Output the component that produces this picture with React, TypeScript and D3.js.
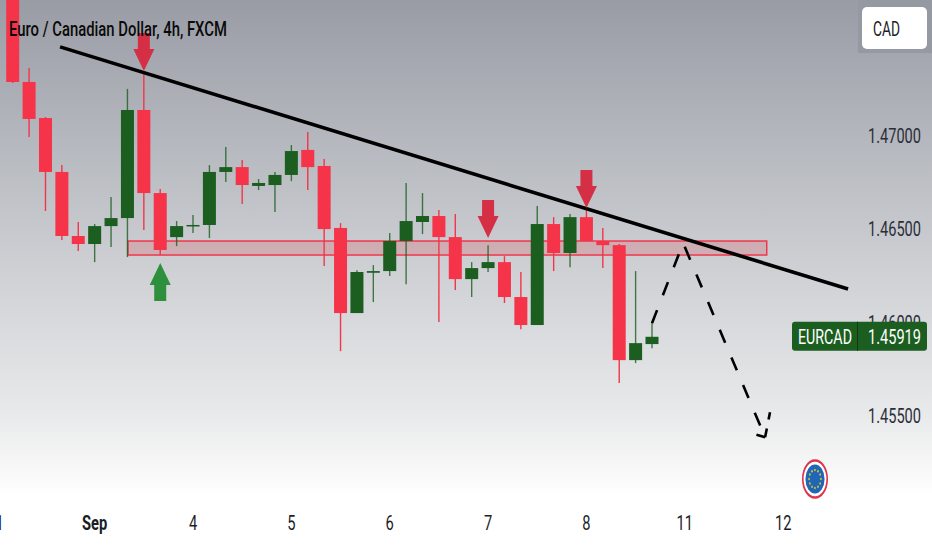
import React, { useEffect, useRef } from "react";
import * as d3 from "d3";

// EURCAD 4h candles
const opens = [1.47777, 1.47284, 1.47091, 1.46802, 1.46459, 1.46416, 1.46512, 1.46555, 1.47134, 1.46689, 1.46453, 1.4651, 1.46518, 1.46802, 1.46828, 1.46727, 1.46732, 1.46786, 1.4692, 1.46834, 1.46502, 1.46046, 1.46262, 1.46271, 1.46432, 1.46534, 1.46566, 1.46453, 1.46228, 1.46287, 1.46319, 1.46132, 1.45982, 1.46523, 1.46368, 1.4656, 1.46432, 1.4641, 1.45794, 1.4588];
const highs = [1.47777, 1.47359, 1.47096, 1.46839, 1.46534, 1.46523, 1.46668, 1.47247, 1.47338, 1.46711, 1.46539, 1.46571, 1.46839, 1.46936, 1.46866, 1.46764, 1.46802, 1.46946, 1.47016, 1.46871, 1.46528, 1.46276, 1.46303, 1.46475, 1.46743, 1.46689, 1.46598, 1.46577, 1.46319, 1.4641, 1.46351, 1.46266, 1.46619, 1.4656, 1.46577, 1.46609, 1.46502, 1.46416, 1.46271, 1.45992];
const lows = [1.47279, 1.46989, 1.46593, 1.46437, 1.46378, 1.46319, 1.464, 1.46346, 1.46491, 1.46357, 1.46405, 1.46475, 1.46448, 1.46748, 1.4663, 1.46705, 1.46587, 1.46753, 1.46705, 1.46298, 1.45842, 1.46046, 1.46105, 1.46244, 1.46201, 1.46469, 1.45998, 1.46169, 1.46132, 1.46266, 1.461, 1.4596, 1.45982, 1.46271, 1.46292, 1.46432, 1.46287, 1.45671, 1.45778, 1.45858];
const closes = [1.47284, 1.47086, 1.46802, 1.46459, 1.46416, 1.46512, 1.46555, 1.47134, 1.46689, 1.46384, 1.46512, 1.46518, 1.46802, 1.46828, 1.46732, 1.46743, 1.46786, 1.46914, 1.46828, 1.46496, 1.46046, 1.46266, 1.46271, 1.46432, 1.46539, 1.46566, 1.46453, 1.46228, 1.46287, 1.46319, 1.46132, 1.45982, 1.46523, 1.46368, 1.4656, 1.46432, 1.4641, 1.45794, 1.45885, 1.45919];

const priceTicks = [1.47, 1.465, 1.46, 1.455];
const dayTicks: [number, string][] = [[-0.8, "1"], [5, "Sep"], [11, "4"], [17, "5"], [23, "6"], [29, "7"], [35, "8"], [41, "11"], [47, "12"]];

// drawings, as [candle index, price]
const trendLine: [number, number][] = [[2.89, 1.47472], [50.96, 1.46175]];
const zoneIndex = [7.03, 46];
const zonePrice = [1.46432, 1.46357];
const pathUp: [number, number][] = [[39, 1.45992], [40.9, 1.46421], [45.9, 1.45381]];
const pathTail1: [number, number][] = [[45.9, 1.45381], [46.2, 1.45515]];
const pathTail2: [number, number][] = [[45.9, 1.45381], [45, 1.45403]];
const downArrows: [number, number][] = [[8, 1.47343], [29, 1.46448], [35, 1.46609]];
const upArrows: [number, number][] = [[9, 1.46314]];

const FONT = "Roboto, 'Liberation Sans', sans-serif";
const RED = "#f5344a";
const GREEN = "#1b5e20";

const App: React.FC = () => {
  const svgRef = useRef<SVGSVGElement>(null);

  useEffect(() => {
    if (!svgRef.current) return;
    const width = 932;
    const height = 550;

    const svg = d3.select(svgRef.current);
    svg.selectAll("*").remove();
    svg.attr("width", width).attr("height", height);

    const x = d3.scaleLinear().domain([0, 39]).range([12.7, 652]);
    const y = d3.scaleLinear().domain([1.47, 1.455]).range([135, 415]);

    // Background fade
    const grad = svg
      .append("defs")
      .append("linearGradient")
      .attr("id", "bg")
      .attr("x1", 0)
      .attr("y1", 0)
      .attr("x2", 0)
      .attr("y2", 1);
    [
      [0, "#999ca5"],
      [0.25, "#b4b7bd"],
      [0.5, "#cfd1d5"],
      [0.75, "#e8e9ea"],
      [0.87, "#fafafa"],
      [0.9, "#ffffff"],
    ].forEach(([o, c]) => grad.append("stop").attr("offset", o as number).attr("stop-color", c as string));
    svg.append("rect").attr("width", width).attr("height", height).attr("fill", "url(#bg)");

    // Zone behind the candles
    svg
      .append("rect")
      .attr("x", x(zoneIndex[0]))
      .attr("y", y(zonePrice[0]))
      .attr("width", x(zoneIndex[1]) - x(zoneIndex[0]))
      .attr("height", y(zonePrice[1]) - y(zonePrice[0]))
      .attr("fill", "#e0414f")
      .attr("fill-opacity", 0.22)
      .attr("stroke", "#f0384c")
      .attr("stroke-width", 1.5);

    // Candles
    const candles = svg.append("g");
    opens.forEach((open, i) => {
      const close = closes[i];
      const color = close >= open ? GREEN : RED;
      const top = y(Math.max(open, close));
      const bottom = y(Math.min(open, close));
      candles
        .append("line")
        .attr("x1", x(i))
        .attr("x2", x(i))
        .attr("y1", y(highs[i]))
        .attr("y2", y(lows[i]))
        .attr("stroke", color)
        .attr("stroke-opacity", close >= open ? 0.8 : 1)
        .attr("stroke-width", 1.4);
      candles
        .append("rect")
        .attr("x", x(i) - 6.5)
        .attr("y", top)
        .attr("width", 13)
        .attr("height", Math.max(bottom - top, 1.5))
        .attr("fill", color);
    });

    // Trend line
    const line = d3
      .line<[number, number]>()
      .x((d) => x(d[0]))
      .y((d) => y(d[1]));
    svg
      .append("path")
      .attr("d", line(trendLine))
      .attr("fill", "none")
      .attr("stroke", "#000")
      .attr("stroke-width", 3.6);

    // Projected path, dashed
    [pathUp, pathTail1, pathTail2].forEach((pts, i) => {
      svg
        .append("path")
        .attr("d", line(pts))
        .attr("fill", "none")
        .attr("stroke", "#000")
        .attr("stroke-width", 2.6)
        .attr("stroke-dasharray", i === 0 ? "14 16" : "9 9");
    });

    // Big arrows
    const arrow = (ix: number, price: number, dir: number, color: string) => {
      const px = x(ix);
      const py = y(price);
      const pts = [
        [0, 0],
        [10.5, 22],
        [6, 22],
        [6, 38],
        [-6, 38],
        [-6, 22],
        [-10.5, 22],
      ].map(([dx, dy]) => [px + dx, py - dir * dy] as [number, number]);
      svg
        .append("path")
        .attr("d", (d3.line()(pts) as string) + "Z")
        .attr("fill", color);
    };
    downArrows.forEach(([i, p]) => arrow(i, p, 1, "#d52f45"));
    upArrows.forEach(([i, p]) => arrow(i, p, -1, "#2e8f3c"));

    // Title
    svg
      .append("text")
      .text("Euro / Canadian Dollar, 4h, FXCM")
      .attr("x", 9)
      .attr("y", 36)
      .attr("font-family", FONT)
      .attr("font-size", 20)
      .attr("font-weight", 500)
      .attr("fill", "#0a0a0a")
      .attr("textLength", 218)
      .attr("lengthAdjust", "spacingAndGlyphs");

    // Price axis
    svg
      .selectAll("text.price")
      .data(priceTicks)
      .enter()
      .append("text")
      .attr("class", "price")
      .text((d) => d3.format(".5f")(d))
      .attr("x", 868)
      .attr("y", (d) => y(d) + 8)
      .attr("font-family", FONT)
      .attr("font-size", 21)
      .attr("fill", "#2a2e39")
      .attr("textLength", 53)
      .attr("lengthAdjust", "spacingAndGlyphs");

    // Time axis
    svg
      .selectAll("text.day")
      .data(dayTicks)
      .enter()
      .append("text")
      .attr("class", "day")
      .text((d) => d[1])
      .attr("x", (d) => x(d[0]))
      .attr("y", 530)
      .attr("text-anchor", "middle")
      .attr("font-family", FONT)
      .attr("font-size", 21)
      .attr("font-weight", (d) => (d[1] === "Sep" ? 700 : 400))
      .attr("fill", "#1a1d26")
      .attr("transform", (d) => `translate(${x(d[0]) * 0.3},0) scale(0.7,1)`);

    // Currency button
    svg.append("rect").attr("x", 858).attr("y", 0).attr("width", 74).attr("height", 53).attr("fill", "#9599a2");
    svg.append("rect").attr("x", 862).attr("y", 7).attr("width", 65).attr("height", 42).attr("rx", 5).attr("fill", "#fff");
    svg
      .append("text")
      .text("CAD")
      .attr("x", 873)
      .attr("y", 36)
      .attr("font-family", FONT)
      .attr("font-size", 21)
      .attr("fill", "#1a1d26")
      .attr("textLength", 27)
      .attr("lengthAdjust", "spacingAndGlyphs");

    // Last price tag
    const tagY = y(closes[closes.length - 1]);
    svg.append("rect").attr("x", 792).attr("y", tagY - 15).attr("width", 135).attr("height", 29).attr("rx", 3).attr("fill", GREEN);
    svg.append("line").attr("x1", 857.5).attr("x2", 857.5).attr("y1", tagY - 15).attr("y2", tagY + 14).attr("stroke", "#0d3a11");
    [
      ["EURCAD", 798, 54],
      [d3.format(".5f")(closes[closes.length - 1]), 868, 53],
    ].forEach(([label, tx, len]) => {
      svg
        .append("text")
        .text(label as string)
        .attr("x", tx as number)
        .attr("y", tagY + 7)
        .attr("font-family", FONT)
        .attr("font-size", 21)
        .attr("fill", "#fff")
        .attr("textLength", len as number)
        .attr("lengthAdjust", "spacingAndGlyphs");
    });

    // Euro flag badge
    const flag = svg.append("g").attr("transform", "translate(815,479) scale(0.66,1)");
    flag.append("circle").attr("r", 18.5).attr("fill", "#fff").attr("stroke", "#e0344a").attr("stroke-width", 2.5);
    flag.append("circle").attr("r", 14.5).attr("fill", "#1f66b5");
    d3.range(12).forEach((k) => {
      const a = (k / 12) * 2 * Math.PI;
      flag
        .append("circle")
        .attr("cx", 9 * Math.cos(a))
        .attr("cy", 9 * Math.sin(a))
        .attr("r", 1.2)
        .attr("fill", "#e8c930");
    });
  }, []);

  return <svg ref={svgRef} style={{ position: "absolute", left: 0, top: 0, display: "block" }} />;
};

export default App;
